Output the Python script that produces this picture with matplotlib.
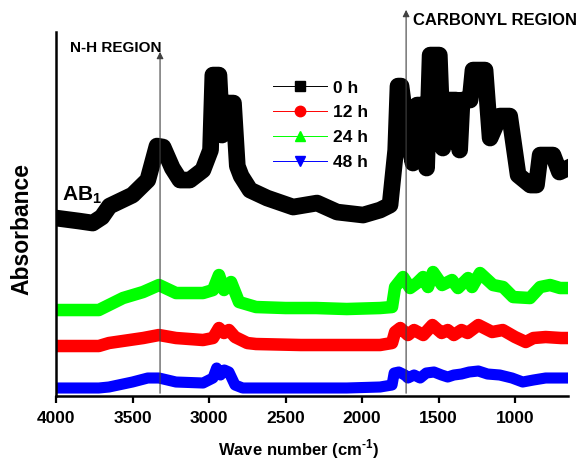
import matplotlib
matplotlib.use("Agg")
import matplotlib.pyplot as plt
from matplotlib.lines import Line2D

plt.rcParams['font.family'] = ['Liberation Sans', 'DejaVu Sans']
plt.rcParams['font.weight'] = 'bold'
plt.rcParams['mathtext.fontset'] = 'custom'
plt.rcParams['mathtext.rm'] = 'Liberation Sans:bold'
plt.rcParams['mathtext.bf'] = 'Liberation Sans:bold'

# spectra (wavenumber in cm-1, absorbance in arb. units, offset)
wn_0h = [4000, 3850, 3760, 3700, 3650, 3500, 3400, 3340, 3300, 3240, 3190, 3125,
         3040, 2990, 2975, 2935, 2915, 2890, 2840, 2815, 2790, 2732, 2620, 2450,
         2294, 2163, 1993, 1882, 1817, 1780, 1765, 1745, 1706, 1667, 1640, 1610,
         1578, 1555, 1495, 1472, 1440, 1385, 1362, 1346, 1294, 1275, 1196, 1163,
         1100, 1035, 980, 900, 860, 836, 752, 710, 655]
abs_0h = [1.78, 1.75, 1.73, 1.79, 1.90, 2.01, 2.16, 2.50, 2.49, 2.28, 2.16, 2.16,
          2.26, 2.46, 3.21, 3.21, 2.61, 2.93, 2.93, 2.30, 2.20, 2.06, 1.98, 1.89,
          1.93, 1.84, 1.81, 1.86, 1.91, 2.46, 3.10, 3.10, 2.64, 2.33, 2.91, 2.91,
          2.28, 3.41, 3.41, 2.48, 2.96, 2.96, 2.46, 2.96, 2.96, 3.26, 3.26, 2.58,
          2.80, 2.80, 2.21, 2.11, 2.11, 2.41, 2.41, 2.24, 2.28]

wn_24h = [4000, 3720, 3654, 3562, 3431, 3327, 3216, 3131, 3039, 2974, 2935, 2902,
          2856, 2804, 2693, 2500, 2300, 2100, 1882, 1804, 1784, 1732, 1686, 1641,
          1601, 1569, 1536, 1477, 1412, 1373, 1307, 1281, 1229, 1144, 1078, 1013,
          902, 836, 771, 706, 654]
abs_24h = [0.86, 0.86, 0.91, 0.98, 1.04, 1.11, 1.03, 1.03, 1.03, 1.06, 1.21, 1.06,
           1.14, 0.94, 0.89, 0.88, 0.88, 0.87, 0.88, 0.89, 1.09, 1.19, 1.08, 1.13,
           1.19, 1.09, 1.24, 1.11, 1.16, 1.08, 1.18, 1.09, 1.23, 1.11, 1.09, 0.99,
           0.98, 1.09, 1.11, 1.08, 1.08]

wn_12h = [4000, 3720, 3654, 3430, 3327, 3216, 3039, 2974, 2935, 2902, 2870, 2830,
          2750, 2693, 2400, 2100, 1882, 1804, 1784, 1750, 1700, 1660, 1600, 1540,
          1480, 1440, 1400, 1350, 1310, 1240, 1150, 1080, 1000, 930, 880, 800, 700, 654]
abs_12h = [0.50, 0.50, 0.53, 0.58, 0.61, 0.58, 0.56, 0.58, 0.68, 0.63, 0.66, 0.59,
           0.53, 0.52, 0.51, 0.51, 0.51, 0.53, 0.64, 0.68, 0.61, 0.66, 0.61, 0.71,
           0.63, 0.66, 0.61, 0.66, 0.63, 0.71, 0.64, 0.66, 0.59, 0.54, 0.58, 0.59, 0.58, 0.58]

wn_48h = [4000, 3720, 3654, 3500, 3400, 3327, 3216, 3039, 2974, 2950, 2925, 2900,
          2870, 2830, 2780, 2693, 2400, 2100, 1882, 1804, 1790, 1760, 1720, 1700,
          1660, 1620, 1580, 1530, 1480, 1440, 1400, 1350, 1300, 1240, 1180, 1100,
          1020, 950, 880, 800, 700, 654]
abs_48h = [0.08, 0.08, 0.09, 0.14, 0.18, 0.18, 0.14, 0.13, 0.18, 0.28, 0.21, 0.26,
           0.24, 0.11, 0.08, 0.08, 0.08, 0.08, 0.09, 0.11, 0.23, 0.24, 0.21, 0.18,
           0.21, 0.18, 0.23, 0.24, 0.21, 0.19, 0.21, 0.22, 0.24, 0.25, 0.22, 0.21,
           0.18, 0.14, 0.16, 0.18, 0.18, 0.18]

labels = ['0 h', '12 h', '24 h', '48 h']
colors = ['#000000', '#ff0000', '#00ff00', '#0000ff']
markers = ['s', 'o', '^', 'v']

fig = plt.figure(figsize=(5.79, 4.63), dpi=100)
ax = fig.add_axes([0.0967, 0.1447, 0.8843, 0.786])

ax.plot(wn_0h, abs_0h, color=colors[0], lw=12)
ax.plot(wn_12h, abs_12h, color=colors[1], lw=9)
ax.plot(wn_24h, abs_24h, color=colors[2], lw=9)
ax.plot(wn_48h, abs_48h, color=colors[3], lw=8)

ax.set_xlim(4000, 654)
ax.set_ylim(0, 3.64)
ax.set_xticks([4000, 3500, 3000, 2500, 2000, 1500, 1000])
ax.set_yticks([])
for s in ['top', 'right']:
    ax.spines[s].set_visible(False)
for s in ['left', 'bottom']:
    ax.spines[s].set_linewidth(1.8)
ax.tick_params(axis='x', direction='out', length=5, width=1.6, labelsize=12.5, pad=6)

ax.set_xlabel('Wave number (cm$^{\\text{-1}}$)', fontsize=12, fontweight='bold')
ax.xaxis.set_label_coords(0.473, -0.115)
ax.set_ylabel('Absorbance', fontsize=16.5, fontweight='bold')
ax.yaxis.set_label_coords(-0.045, 0.46)

# region markers
ax.annotate('', xy=(3320, 3.47), xytext=(3320, 0), annotation_clip=False,
            arrowprops=dict(arrowstyle='-|>', color='0.25', lw=0.8, mutation_scale=10),
            zorder=5)
ax.annotate('', xy=(1712, 3.89), xytext=(1712, 0), annotation_clip=False,
            arrowprops=dict(arrowstyle='-|>', color='0.25', lw=0.8, mutation_scale=10),
            zorder=5)
ax.text(3908, 3.48, 'N-H REGION', fontsize=11, fontweight='bold', va='center', ha='left')
ax.text(1667, 3.76, 'CARBONYL REGION', fontsize=12, fontweight='bold', va='center', ha='left')
ax.text(3961, 1.96, 'AB$_1$', fontsize=15, fontweight='bold', va='baseline', ha='left')

handles = [Line2D([], [], color=c, marker=m, lw=0.7, markersize=7.5, alpha=1)
           for c, m in zip(colors, markers)]
fig.legend(handles, labels, loc='center left', bbox_to_anchor=(273 / 579, 1 - 125 / 463),
           frameon=False, prop={'size': 12.5, 'weight': 'bold'}, handlelength=3.1,
           handletextpad=0.35, labelspacing=0.55, borderpad=0, borderaxespad=0)

fig.savefig('out.png', dpi=100)
